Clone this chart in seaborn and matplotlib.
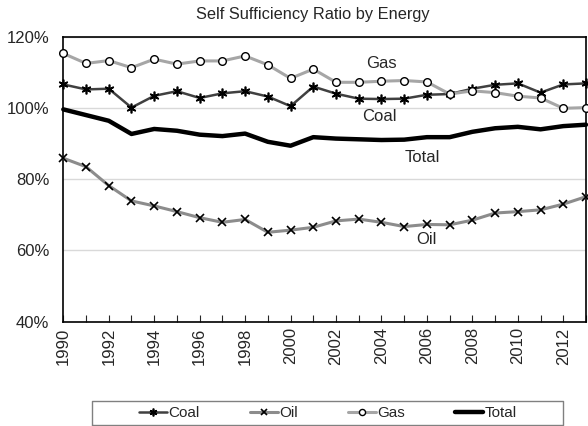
import matplotlib
matplotlib.use('Agg')
import matplotlib.pyplot as plt
from matplotlib.lines import Line2D
from matplotlib.ticker import MultipleLocator, FuncFormatter
import seaborn as sns
import pandas as pd

years = list(range(1990, 2014))
coal = [106.6, 105.2, 105.4, 100.1, 103.4, 104.7, 102.8, 104.1, 104.7, 103.2, 100.5, 106.0,
        104.0, 102.6, 102.5, 102.6, 103.7, 103.9, 105.4, 106.5, 106.9, 104.3, 106.6, 106.9]
oil = [85.9, 83.5, 78.2, 73.9, 72.5, 70.9, 69.2, 67.9, 68.7, 65.1, 65.7, 66.5,
       68.3, 68.8, 67.9, 66.7, 67.3, 67.2, 68.5, 70.5, 70.9, 71.4, 73.0, 75.1]
gas = [115.3, 112.5, 113.3, 111.3, 113.7, 112.3, 113.2, 113.2, 114.6, 112.1, 108.3, 110.9,
       107.2, 107.2, 107.5, 107.7, 107.3, 103.9, 104.8, 104.3, 103.3, 102.8, 99.9, 100.1]
total = [99.6, 98.0, 96.4, 92.7, 94.1, 93.6, 92.5, 92.1, 92.8, 90.5, 89.4, 91.8,
         91.4, 91.2, 91.0, 91.1, 91.8, 91.8, 93.3, 94.3, 94.7, 94.0, 94.9, 95.3]

df = pd.DataFrame({'year': years, 'Coal': coal, 'Oil': oil, 'Gas': gas, 'Total': total})

sns.set_style('white')
plt.rcParams['font.family'] = ['Liberation Sans', 'DejaVu Sans']

W, H = 588, 426
fig = plt.figure(figsize=(W / 100, H / 100), dpi=100)
ax = fig.add_axes([63.3 / W, 1 - 321.7 / H, (586 - 63.3) / W, (321.7 - 36.7) / H])

styles = {
    'Coal': dict(color='#404040', lw=1.8, marker=(6, 2, 0), ms=7, mec='black', mew=1.2),
    'Oil': dict(color='#8c8c8c', lw=2.2, marker='x', ms=5.5, mec='black', mew=1.2),
    'Gas': dict(color='#a6a6a6', lw=2.2, marker='o', ms=5.5, mfc='white', mec='black', mew=1.0),
    'Total': dict(color='black', lw=3.2),
}
for name in ['Coal', 'Oil', 'Gas', 'Total']:
    st = styles[name]
    sns.lineplot(data=df, x='year', y=name, ax=ax, color=st['color'], linewidth=st['lw'],
                 marker=st.get('marker'), markersize=st.get('ms', 0),
                 markerfacecolor=st.get('mfc', st.get('mec', 'black')),
                 markeredgecolor=st.get('mec', 'black'), markeredgewidth=st.get('mew', 0),
                 label=name, legend=False, zorder=3 if name != 'Total' else 4,
                 clip_on=False)

ax.set_xlim(1990, 2013)
ax.set_ylim(40, 120)
ax.set_xlabel('')
ax.set_ylabel('')
ax.xaxis.set_major_locator(MultipleLocator(2))
ax.xaxis.set_minor_locator(MultipleLocator(1))
ax.yaxis.set_major_locator(MultipleLocator(20))
ax.yaxis.set_major_formatter(FuncFormatter(lambda v, p: f'{int(v)}%'))
ax.tick_params(axis='x', which='both', direction='in', length=5, width=0.8,
               labelsize=12, rotation=90, bottom=True, pad=4)
ax.tick_params(axis='y', length=0, labelsize=12, pad=10)
ax.grid(axis='y', color='#d9d9d9', lw=1)
ax.set_axisbelow(True)
for s in ax.spines.values():
    s.set_color('black')
    s.set_linewidth(1.2)

# series labels inside the plot
ax.text(2004.0, 112.5, 'Gas', fontsize=12, ha='center', va='center')
ax.text(2003.9, 97.5, 'Coal', fontsize=12, ha='center', va='center')
ax.text(2005.8, 86.0, 'Total', fontsize=12, ha='center', va='center')
ax.text(2006.0, 63.2, 'Oil', fontsize=12, ha='center', va='center')

fig.text(313 / W, 1 - 15 / H, 'Self Sufficiency Ratio by Energy', fontsize=11.8,
         ha='center', va='center')

# legend box outline drawn as a line in figure pixels (y from the bottom)
bx0, bx1, by0, by1 = 92, 563, 1.5, 25
fig.add_artist(Line2D([bx0 / W, bx1 / W, bx1 / W, bx0 / W, bx0 / W],
                      [by0 / H, by0 / H, by1 / H, by1 / H, by0 / H],
                      transform=fig.transFigure, color='#808080', lw=1))
handles, labels = ax.get_legend_handles_labels()
fig.legend(handles, labels, loc='center', bbox_to_anchor=(328 / W, 13 / H),
           ncol=4, frameon=False, fontsize=11, handlelength=1.8, handletextpad=0.1,
           columnspacing=3.3, markerscale=0.8)

fig.savefig('out.png', dpi=100)
